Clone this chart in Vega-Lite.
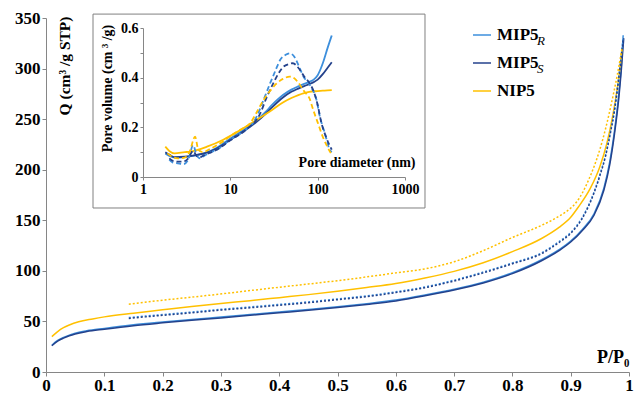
{
  "$schema": "https://vega.github.io/schema/vega-lite/v6.json",
  "width": 583,
  "height": 354,
  "autosize": {"type": "none"},
  "padding": {"left": 46, "top": 18, "right": 5, "bottom": 22},
  "background": "white",
  "config": {
    "view": {"stroke": null},
    "font": "Liberation Serif",
    "axis": {
      "labelFont": "Liberation Serif", "labelFontWeight": "bold", "labelColor": "black",
      "titleFont": "Liberation Serif", "titleFontWeight": "bold", "titleColor": "black",
      "domainColor": "#868686", "tickColor": "#868686", "grid": false,
      "labelFlush": false, "labelOverlap": false
    },
    "legend": {"labelFont": "Liberation Serif", "labelColor": "black"}
  },
  "datasets": {
    "main": [
      {"series":"MIP5R","branch":"ads","P":0.01,"Q":26.5},{"series":"MIP5R","branch":"ads","P":0.02,"Q":31.2},{"series":"MIP5R","branch":"ads","P":0.03,"Q":34.2},{"series":"MIP5R","branch":"ads","P":0.04,"Q":36.5},{"series":"MIP5R","branch":"ads","P":0.05,"Q":38.3},{"series":"MIP5R","branch":"ads","P":0.07,"Q":40.8},{"series":"MIP5R","branch":"ads","P":0.1,"Q":43.1},{"series":"MIP5R","branch":"ads","P":0.15,"Q":46.6},{"series":"MIP5R","branch":"ads","P":0.2,"Q":49.4},{"series":"MIP5R","branch":"ads","P":0.25,"Q":52},{"series":"MIP5R","branch":"ads","P":0.3,"Q":54.3},{"series":"MIP5R","branch":"ads","P":0.35,"Q":56.8},{"series":"MIP5R","branch":"ads","P":0.4,"Q":59.3},{"series":"MIP5R","branch":"ads","P":0.45,"Q":61.8},{"series":"MIP5R","branch":"ads","P":0.5,"Q":64.5},{"series":"MIP5R","branch":"ads","P":0.55,"Q":67.6},{"series":"MIP5R","branch":"ads","P":0.6,"Q":71.1},{"series":"MIP5R","branch":"ads","P":0.65,"Q":76.1},{"series":"MIP5R","branch":"ads","P":0.7,"Q":81.8},{"series":"MIP5R","branch":"ads","P":0.75,"Q":88.8},{"series":"MIP5R","branch":"ads","P":0.8,"Q":98.2},{"series":"MIP5R","branch":"ads","P":0.85,"Q":111},{"series":"MIP5R","branch":"ads","P":0.88,"Q":121},{"series":"MIP5R","branch":"ads","P":0.9,"Q":129.5},{"series":"MIP5R","branch":"ads","P":0.92,"Q":141},{"series":"MIP5R","branch":"ads","P":0.94,"Q":156.5},{"series":"MIP5R","branch":"ads","P":0.957,"Q":182},{"series":"MIP5R","branch":"ads","P":0.967,"Q":208},{"series":"MIP5R","branch":"ads","P":0.975,"Q":238},{"series":"MIP5R","branch":"ads","P":0.982,"Q":272},{"series":"MIP5R","branch":"ads","P":0.987,"Q":304},{"series":"MIP5R","branch":"ads","P":0.99,"Q":333},
      {"series":"MIP5S","branch":"ads","P":0.01,"Q":26},{"series":"MIP5S","branch":"ads","P":0.02,"Q":30.5},{"series":"MIP5S","branch":"ads","P":0.03,"Q":33.5},{"series":"MIP5S","branch":"ads","P":0.04,"Q":35.8},{"series":"MIP5S","branch":"ads","P":0.05,"Q":37.6},{"series":"MIP5S","branch":"ads","P":0.07,"Q":40},{"series":"MIP5S","branch":"ads","P":0.1,"Q":42.3},{"series":"MIP5S","branch":"ads","P":0.15,"Q":45.8},{"series":"MIP5S","branch":"ads","P":0.2,"Q":48.6},{"series":"MIP5S","branch":"ads","P":0.25,"Q":51.2},{"series":"MIP5S","branch":"ads","P":0.3,"Q":53.5},{"series":"MIP5S","branch":"ads","P":0.35,"Q":56},{"series":"MIP5S","branch":"ads","P":0.4,"Q":58.5},{"series":"MIP5S","branch":"ads","P":0.45,"Q":61},{"series":"MIP5S","branch":"ads","P":0.5,"Q":63.7},{"series":"MIP5S","branch":"ads","P":0.55,"Q":66.8},{"series":"MIP5S","branch":"ads","P":0.6,"Q":70.3},{"series":"MIP5S","branch":"ads","P":0.65,"Q":75.3},{"series":"MIP5S","branch":"ads","P":0.7,"Q":81},{"series":"MIP5S","branch":"ads","P":0.75,"Q":88},{"series":"MIP5S","branch":"ads","P":0.8,"Q":97.3},{"series":"MIP5S","branch":"ads","P":0.85,"Q":110},{"series":"MIP5S","branch":"ads","P":0.88,"Q":120},{"series":"MIP5S","branch":"ads","P":0.9,"Q":128.5},{"series":"MIP5S","branch":"ads","P":0.92,"Q":140},{"series":"MIP5S","branch":"ads","P":0.94,"Q":155},{"series":"MIP5S","branch":"ads","P":0.957,"Q":180},{"series":"MIP5S","branch":"ads","P":0.967,"Q":205},{"series":"MIP5S","branch":"ads","P":0.975,"Q":235},{"series":"MIP5S","branch":"ads","P":0.982,"Q":268},{"series":"MIP5S","branch":"ads","P":0.987,"Q":300},{"series":"MIP5S","branch":"ads","P":0.991,"Q":330},
      {"series":"NIP5","branch":"ads","P":0.01,"Q":35},{"series":"NIP5","branch":"ads","P":0.02,"Q":40},{"series":"NIP5","branch":"ads","P":0.03,"Q":43.8},{"series":"NIP5","branch":"ads","P":0.04,"Q":46.5},{"series":"NIP5","branch":"ads","P":0.056,"Q":49.7},{"series":"NIP5","branch":"ads","P":0.08,"Q":52.5},{"series":"NIP5","branch":"ads","P":0.1,"Q":54.5},{"series":"NIP5","branch":"ads","P":0.15,"Q":58.2},{"series":"NIP5","branch":"ads","P":0.2,"Q":61.5},{"series":"NIP5","branch":"ads","P":0.25,"Q":64.8},{"series":"NIP5","branch":"ads","P":0.3,"Q":67.8},{"series":"NIP5","branch":"ads","P":0.35,"Q":70.5},{"series":"NIP5","branch":"ads","P":0.4,"Q":73.5},{"series":"NIP5","branch":"ads","P":0.45,"Q":76.5},{"series":"NIP5","branch":"ads","P":0.5,"Q":79.8},{"series":"NIP5","branch":"ads","P":0.55,"Q":83.5},{"series":"NIP5","branch":"ads","P":0.6,"Q":87.5},{"series":"NIP5","branch":"ads","P":0.65,"Q":93},{"series":"NIP5","branch":"ads","P":0.7,"Q":99.5},{"series":"NIP5","branch":"ads","P":0.75,"Q":108},{"series":"NIP5","branch":"ads","P":0.8,"Q":119},{"series":"NIP5","branch":"ads","P":0.85,"Q":132},{"series":"NIP5","branch":"ads","P":0.88,"Q":143},{"series":"NIP5","branch":"ads","P":0.9,"Q":153},{"series":"NIP5","branch":"ads","P":0.913,"Q":163},{"series":"NIP5","branch":"ads","P":0.934,"Q":182},{"series":"NIP5","branch":"ads","P":0.95,"Q":203},{"series":"NIP5","branch":"ads","P":0.962,"Q":226},{"series":"NIP5","branch":"ads","P":0.972,"Q":253},{"series":"NIP5","branch":"ads","P":0.98,"Q":281},{"series":"NIP5","branch":"ads","P":0.985,"Q":303},{"series":"NIP5","branch":"ads","P":0.988,"Q":320},
      {"series":"MIP5R","branch":"des","P":0.142,"Q":53.8},{"series":"MIP5R","branch":"des","P":0.17,"Q":55.3},{"series":"MIP5R","branch":"des","P":0.2,"Q":56.8},{"series":"MIP5R","branch":"des","P":0.25,"Q":59.3},{"series":"MIP5R","branch":"des","P":0.3,"Q":62},{"series":"MIP5R","branch":"des","P":0.35,"Q":64.3},{"series":"MIP5R","branch":"des","P":0.4,"Q":66.8},{"series":"MIP5R","branch":"des","P":0.45,"Q":69.3},{"series":"MIP5R","branch":"des","P":0.5,"Q":72.3},{"series":"MIP5R","branch":"des","P":0.55,"Q":75.3},{"series":"MIP5R","branch":"des","P":0.6,"Q":79.3},{"series":"MIP5R","branch":"des","P":0.65,"Q":84.1},{"series":"MIP5R","branch":"des","P":0.7,"Q":90.8},{"series":"MIP5R","branch":"des","P":0.75,"Q":98.8},{"series":"MIP5R","branch":"des","P":0.8,"Q":107.8},{"series":"MIP5R","branch":"des","P":0.85,"Q":117.8},{"series":"MIP5R","branch":"des","P":0.88,"Q":129},{"series":"MIP5R","branch":"des","P":0.9,"Q":138},{"series":"MIP5R","branch":"des","P":0.92,"Q":153},{"series":"MIP5R","branch":"des","P":0.94,"Q":178},{"series":"MIP5R","branch":"des","P":0.95,"Q":195},{"series":"MIP5R","branch":"des","P":0.96,"Q":215},{"series":"MIP5R","branch":"des","P":0.968,"Q":237},{"series":"MIP5R","branch":"des","P":0.975,"Q":259},{"series":"MIP5R","branch":"des","P":0.98,"Q":280},{"series":"MIP5R","branch":"des","P":0.985,"Q":304},{"series":"MIP5R","branch":"des","P":0.99,"Q":330},
      {"series":"MIP5S","branch":"des","P":0.142,"Q":53},{"series":"MIP5S","branch":"des","P":0.17,"Q":54.5},{"series":"MIP5S","branch":"des","P":0.2,"Q":56},{"series":"MIP5S","branch":"des","P":0.25,"Q":58.5},{"series":"MIP5S","branch":"des","P":0.3,"Q":61.2},{"series":"MIP5S","branch":"des","P":0.35,"Q":63.5},{"series":"MIP5S","branch":"des","P":0.4,"Q":66},{"series":"MIP5S","branch":"des","P":0.45,"Q":68.5},{"series":"MIP5S","branch":"des","P":0.5,"Q":71.5},{"series":"MIP5S","branch":"des","P":0.55,"Q":74.5},{"series":"MIP5S","branch":"des","P":0.6,"Q":78.5},{"series":"MIP5S","branch":"des","P":0.65,"Q":83.3},{"series":"MIP5S","branch":"des","P":0.7,"Q":90},{"series":"MIP5S","branch":"des","P":0.75,"Q":98},{"series":"MIP5S","branch":"des","P":0.8,"Q":107},{"series":"MIP5S","branch":"des","P":0.85,"Q":117},{"series":"MIP5S","branch":"des","P":0.88,"Q":128},{"series":"MIP5S","branch":"des","P":0.9,"Q":137},{"series":"MIP5S","branch":"des","P":0.92,"Q":152},{"series":"MIP5S","branch":"des","P":0.94,"Q":177},{"series":"MIP5S","branch":"des","P":0.95,"Q":194},{"series":"MIP5S","branch":"des","P":0.96,"Q":214},{"series":"MIP5S","branch":"des","P":0.968,"Q":236},{"series":"MIP5S","branch":"des","P":0.975,"Q":258},{"series":"MIP5S","branch":"des","P":0.98,"Q":279},{"series":"MIP5S","branch":"des","P":0.985,"Q":302},{"series":"MIP5S","branch":"des","P":0.99,"Q":328},
      {"series":"NIP5","branch":"des","P":0.142,"Q":67},{"series":"NIP5","branch":"des","P":0.2,"Q":71},{"series":"NIP5","branch":"des","P":0.25,"Q":74},{"series":"NIP5","branch":"des","P":0.313,"Q":78},{"series":"NIP5","branch":"des","P":0.35,"Q":80.5},{"series":"NIP5","branch":"des","P":0.4,"Q":83.8},{"series":"NIP5","branch":"des","P":0.45,"Q":87},{"series":"NIP5","branch":"des","P":0.5,"Q":90.3},{"series":"NIP5","branch":"des","P":0.55,"Q":94},{"series":"NIP5","branch":"des","P":0.6,"Q":98},{"series":"NIP5","branch":"des","P":0.655,"Q":102.5},{"series":"NIP5","branch":"des","P":0.7,"Q":109},{"series":"NIP5","branch":"des","P":0.75,"Q":120},{"series":"NIP5","branch":"des","P":0.8,"Q":133},{"series":"NIP5","branch":"des","P":0.85,"Q":145},{"series":"NIP5","branch":"des","P":0.88,"Q":154},{"series":"NIP5","branch":"des","P":0.9,"Q":162},{"series":"NIP5","branch":"des","P":0.91,"Q":168},{"series":"NIP5","branch":"des","P":0.92,"Q":177},{"series":"NIP5","branch":"des","P":0.93,"Q":189},{"series":"NIP5","branch":"des","P":0.94,"Q":203},{"series":"NIP5","branch":"des","P":0.95,"Q":220},{"series":"NIP5","branch":"des","P":0.96,"Q":241},{"series":"NIP5","branch":"des","P":0.97,"Q":266},{"series":"NIP5","branch":"des","P":0.98,"Q":294},{"series":"NIP5","branch":"des","P":0.985,"Q":310},{"series":"NIP5","branch":"des","P":0.988,"Q":320}
    ],
    "inset": [
      {"series":"MIP5R","branch":"ads","d":1.8,"v":0.095},{"series":"MIP5R","branch":"ads","d":2,"v":0.085},{"series":"MIP5R","branch":"ads","d":2.3,"v":0.078},{"series":"MIP5R","branch":"ads","d":3,"v":0.08},{"series":"MIP5R","branch":"ads","d":4,"v":0.087},{"series":"MIP5R","branch":"ads","d":5,"v":0.095},{"series":"MIP5R","branch":"ads","d":7,"v":0.118},{"series":"MIP5R","branch":"ads","d":10,"v":0.155},{"series":"MIP5R","branch":"ads","d":15,"v":0.195},{"series":"MIP5R","branch":"ads","d":20,"v":0.228},{"series":"MIP5R","branch":"ads","d":25,"v":0.26},{"series":"MIP5R","branch":"ads","d":30,"v":0.29},{"series":"MIP5R","branch":"ads","d":40,"v":0.33},{"series":"MIP5R","branch":"ads","d":50,"v":0.352},{"series":"MIP5R","branch":"ads","d":60,"v":0.365},{"series":"MIP5R","branch":"ads","d":70,"v":0.375},{"series":"MIP5R","branch":"ads","d":80,"v":0.383},{"series":"MIP5R","branch":"ads","d":90,"v":0.392},{"series":"MIP5R","branch":"ads","d":100,"v":0.41},{"series":"MIP5R","branch":"ads","d":115,"v":0.46},{"series":"MIP5R","branch":"ads","d":130,"v":0.52},{"series":"MIP5R","branch":"ads","d":145,"v":0.57},
      {"series":"MIP5S","branch":"ads","d":1.8,"v":0.1},{"series":"MIP5S","branch":"ads","d":2,"v":0.09},{"series":"MIP5S","branch":"ads","d":2.3,"v":0.08},{"series":"MIP5S","branch":"ads","d":3,"v":0.082},{"series":"MIP5S","branch":"ads","d":4,"v":0.088},{"series":"MIP5S","branch":"ads","d":5,"v":0.095},{"series":"MIP5S","branch":"ads","d":7,"v":0.115},{"series":"MIP5S","branch":"ads","d":10,"v":0.15},{"series":"MIP5S","branch":"ads","d":15,"v":0.19},{"series":"MIP5S","branch":"ads","d":20,"v":0.222},{"series":"MIP5S","branch":"ads","d":25,"v":0.252},{"series":"MIP5S","branch":"ads","d":30,"v":0.28},{"series":"MIP5S","branch":"ads","d":40,"v":0.32},{"series":"MIP5S","branch":"ads","d":50,"v":0.343},{"series":"MIP5S","branch":"ads","d":60,"v":0.356},{"series":"MIP5S","branch":"ads","d":70,"v":0.366},{"series":"MIP5S","branch":"ads","d":80,"v":0.374},{"series":"MIP5S","branch":"ads","d":90,"v":0.382},{"series":"MIP5S","branch":"ads","d":100,"v":0.392},{"series":"MIP5S","branch":"ads","d":115,"v":0.415},{"series":"MIP5S","branch":"ads","d":130,"v":0.44},{"series":"MIP5S","branch":"ads","d":145,"v":0.462},
      {"series":"NIP5","branch":"ads","d":1.8,"v":0.122},{"series":"NIP5","branch":"ads","d":2,"v":0.105},{"series":"NIP5","branch":"ads","d":2.3,"v":0.095},{"series":"NIP5","branch":"ads","d":3,"v":0.1},{"series":"NIP5","branch":"ads","d":3.45,"v":0.102},{"series":"NIP5","branch":"ads","d":5.4,"v":0.122},{"series":"NIP5","branch":"ads","d":8.3,"v":0.15},{"series":"NIP5","branch":"ads","d":12.9,"v":0.188},{"series":"NIP5","branch":"ads","d":20,"v":0.23},{"series":"NIP5","branch":"ads","d":30,"v":0.27},{"series":"NIP5","branch":"ads","d":40,"v":0.3},{"series":"NIP5","branch":"ads","d":50,"v":0.318},{"series":"NIP5","branch":"ads","d":60,"v":0.33},{"series":"NIP5","branch":"ads","d":70,"v":0.338},{"series":"NIP5","branch":"ads","d":80,"v":0.343},{"series":"NIP5","branch":"ads","d":100,"v":0.346},{"series":"NIP5","branch":"ads","d":120,"v":0.348},{"series":"NIP5","branch":"ads","d":145,"v":0.35},
      {"series":"MIP5R","branch":"des","d":2,"v":0.07},{"series":"MIP5R","branch":"des","d":2.2,"v":0.058},{"series":"MIP5R","branch":"des","d":2.5,"v":0.055},{"series":"MIP5R","branch":"des","d":2.9,"v":0.052},{"series":"MIP5R","branch":"des","d":3.3,"v":0.07},{"series":"MIP5R","branch":"des","d":3.75,"v":0.128},{"series":"MIP5R","branch":"des","d":4.1,"v":0.09},{"series":"MIP5R","branch":"des","d":4.5,"v":0.075},{"series":"MIP5R","branch":"des","d":5,"v":0.085},{"series":"MIP5R","branch":"des","d":6,"v":0.1},{"series":"MIP5R","branch":"des","d":7,"v":0.11},{"series":"MIP5R","branch":"des","d":10,"v":0.15},{"series":"MIP5R","branch":"des","d":15,"v":0.19},{"series":"MIP5R","branch":"des","d":18,"v":0.215},{"series":"MIP5R","branch":"des","d":20,"v":0.243},{"series":"MIP5R","branch":"des","d":24,"v":0.31},{"series":"MIP5R","branch":"des","d":28.5,"v":0.377},{"series":"MIP5R","branch":"des","d":33,"v":0.43},{"series":"MIP5R","branch":"des","d":37,"v":0.47},{"series":"MIP5R","branch":"des","d":43,"v":0.492},{"series":"MIP5R","branch":"des","d":48,"v":0.498},{"series":"MIP5R","branch":"des","d":55,"v":0.48},{"series":"MIP5R","branch":"des","d":62,"v":0.44},{"series":"MIP5R","branch":"des","d":70,"v":0.4},{"series":"MIP5R","branch":"des","d":78,"v":0.38},{"series":"MIP5R","branch":"des","d":85,"v":0.36},{"series":"MIP5R","branch":"des","d":97,"v":0.31},{"series":"MIP5R","branch":"des","d":106,"v":0.243},{"series":"MIP5R","branch":"des","d":120,"v":0.18},{"series":"MIP5R","branch":"des","d":138,"v":0.109},{"series":"MIP5R","branch":"des","d":145,"v":0.1},
      {"series":"MIP5S","branch":"des","d":2,"v":0.075},{"series":"MIP5S","branch":"des","d":2.2,"v":0.065},{"series":"MIP5S","branch":"des","d":2.5,"v":0.062},{"series":"MIP5S","branch":"des","d":2.9,"v":0.062},{"series":"MIP5S","branch":"des","d":3.3,"v":0.075},{"series":"MIP5S","branch":"des","d":3.75,"v":0.105},{"series":"MIP5S","branch":"des","d":4.1,"v":0.085},{"series":"MIP5S","branch":"des","d":4.5,"v":0.08},{"series":"MIP5S","branch":"des","d":5,"v":0.088},{"series":"MIP5S","branch":"des","d":7,"v":0.11},{"series":"MIP5S","branch":"des","d":10,"v":0.148},{"series":"MIP5S","branch":"des","d":15,"v":0.19},{"series":"MIP5S","branch":"des","d":22,"v":0.256},{"series":"MIP5S","branch":"des","d":26,"v":0.32},{"series":"MIP5S","branch":"des","d":31,"v":0.377},{"series":"MIP5S","branch":"des","d":36,"v":0.42},{"series":"MIP5S","branch":"des","d":40.5,"v":0.444},{"series":"MIP5S","branch":"des","d":47,"v":0.455},{"series":"MIP5S","branch":"des","d":52,"v":0.458},{"series":"MIP5S","branch":"des","d":60,"v":0.44},{"series":"MIP5S","branch":"des","d":70,"v":0.405},{"series":"MIP5S","branch":"des","d":80,"v":0.38},{"series":"MIP5S","branch":"des","d":90,"v":0.345},{"series":"MIP5S","branch":"des","d":100,"v":0.29},{"series":"MIP5S","branch":"des","d":110,"v":0.22},{"series":"MIP5S","branch":"des","d":125,"v":0.16},{"series":"MIP5S","branch":"des","d":145,"v":0.11},
      {"series":"NIP5","branch":"des","d":1.9,"v":0.095},{"series":"NIP5","branch":"des","d":2.2,"v":0.08},{"series":"NIP5","branch":"des","d":2.5,"v":0.075},{"series":"NIP5","branch":"des","d":3,"v":0.078},{"series":"NIP5","branch":"des","d":3.4,"v":0.1},{"series":"NIP5","branch":"des","d":3.95,"v":0.162},{"series":"NIP5","branch":"des","d":4.3,"v":0.11},{"series":"NIP5","branch":"des","d":4.8,"v":0.1},{"series":"NIP5","branch":"des","d":6,"v":0.115},{"series":"NIP5","branch":"des","d":8,"v":0.14},{"series":"NIP5","branch":"des","d":10,"v":0.165},{"series":"NIP5","branch":"des","d":13,"v":0.19},{"series":"NIP5","branch":"des","d":16.8,"v":0.216},{"series":"NIP5","branch":"des","d":20,"v":0.26},{"series":"NIP5","branch":"des","d":24,"v":0.31},{"series":"NIP5","branch":"des","d":29,"v":0.35},{"series":"NIP5","branch":"des","d":34,"v":0.377},{"series":"NIP5","branch":"des","d":40,"v":0.395},{"series":"NIP5","branch":"des","d":48,"v":0.404},{"series":"NIP5","branch":"des","d":55,"v":0.395},{"series":"NIP5","branch":"des","d":60,"v":0.38},{"series":"NIP5","branch":"des","d":70,"v":0.345},{"series":"NIP5","branch":"des","d":81,"v":0.315},{"series":"NIP5","branch":"des","d":89,"v":0.27},{"series":"NIP5","branch":"des","d":100,"v":0.22},{"series":"NIP5","branch":"des","d":115,"v":0.16},{"series":"NIP5","branch":"des","d":130,"v":0.12},{"series":"NIP5","branch":"des","d":142,"v":0.095}
    ],
    "subs": [{"sub": "R"}, {"sub": "S"}]
  },
  "layer": [
    {
      "data": {"name": "main"},
      "encoding": {
        "x": {
          "field": "P", "type": "quantitative",
          "scale": {"domain": [0, 1], "nice": false, "zero": false},
          "axis": {
            "values": [0, 0.1, 0.2, 0.3, 0.4, 0.5, 0.6, 0.7, 0.8, 0.9, 1],
            "format": ".1~f", "labelFontSize": 17, "tickSize": 4, "labelPadding": 1,
            "title": "P/P₀", "titleFontSize": 18, "titleX": 583, "titleY": -10,
            "titleAlign": "right", "titleBaseline": "alphabetic"
          }
        },
        "y": {
          "field": "Q", "type": "quantitative",
          "scale": {"domain": [0, 350], "nice": false},
          "axis": {
            "values": [0, 50, 100, 150, 200, 250, 300, 350],
            "labelFontSize": 17, "tickSize": 4, "labelPadding": 2,
            "title": "Q (cm³ /g STP)", "titleFontSize": 15.5, "titleAngle": 270,
            "titleX": 11, "titleY": -2, "titleAlign": "right", "titleBaseline": "top"
          }
        },
        "color": {
          "field": "series", "type": "nominal",
          "scale": {"domain": ["MIP5R", "MIP5S", "NIP5"], "range": ["#3d8fdc", "#24428c", "#ffc000"]},
          "legend": {
            "orient": "none", "legendX": 426, "legendY": 7, "title": null, "padding": 0,
            "symbolType": "stroke", "symbolSize": 324, "symbolStrokeWidth": 1.5,
            "labelFontWeight": "bold", "labelFontSize": 17, "rowPadding": 10, "labelOffset": 5,
            "labelExpr": "datum.label == 'NIP5' ? 'NIP5' : 'MIP5'"
          }
        }
      },
      "layer": [
        {"transform": [{"filter": "datum.branch == 'ads'"}], "mark": {"type": "line", "strokeWidth": 1.5, "interpolate": "monotone"}},
        {"transform": [{"filter": "datum.branch == 'des'"}], "mark": {"type": "line", "strokeWidth": 1.5, "strokeDash": [2, 2], "interpolate": "monotone"}}
      ]
    },
    {
      "layer": [
        {
          "data": {"values": [{}]},
          "mark": {"type": "rect", "fill": "white", "stroke": "#808080", "strokeWidth": 1},
          "encoding": {
            "x": {
              "datum": 0.2677, "type": "quantitative",
              "scale": {"type": "log", "domain": [1, 1000], "range": [97, 359]},
              "axis": {
                "orient": "bottom", "offset": -195, "zindex": 1,
                "values": [1, 10, 100, 1000], "format": "d", "labelFontSize": 14, "tickSize": 3, "labelPadding": 2,
                "title": "Pore diameter (nm)", "titleFontSize": 14, "titleX": 369, "titleY": -11,
                "titleAlign": "right", "titleBaseline": "alphabetic"
              }
            },
            "x2": {"datum": 1694},
            "y": {
              "datum": -0.1248, "type": "quantitative",
              "scale": {"domain": [0, 0.6], "range": [159, 10], "nice": false, "zero": false},
              "axis": {
                "orient": "left", "offset": -97, "zindex": 1,
                "values": [0, 0.1, 0.2, 0.3, 0.4, 0.5, 0.6],
                "labelExpr": "round(datum.value*10) % 2 == 0 ? format(datum.value, '.1~f') : ''",
                "labelFontSize": 14, "tickSize": 3, "labelPadding": 2,
                "title": "Pore volume (cm ³ /g)", "titleFontSize": 14, "titleAngle": 270,
                "titleX": -36, "titleY": 70, "titleAlign": "center", "titleBaseline": "middle"
              }
            },
            "y2": {"datum": 0.656}
          }
        },
        {
          "data": {"name": "inset"},
          "encoding": {
            "x": {
              "field": "d", "type": "quantitative",
              "scale": {"type": "log", "domain": [1, 1000], "range": [97, 359]},
              "axis": {
                "orient": "bottom", "offset": -195, "zindex": 1,
                "values": [1, 10, 100, 1000], "format": "d", "labelFontSize": 14, "tickSize": 3, "labelPadding": 2,
                "title": "Pore diameter (nm)", "titleFontSize": 14, "titleX": 369, "titleY": -11,
                "titleAlign": "right", "titleBaseline": "alphabetic"
              }
            },
            "y": {
              "field": "v", "type": "quantitative",
              "scale": {"domain": [0, 0.6], "range": [159, 10], "nice": false, "zero": false},
              "axis": {
                "orient": "left", "offset": -97, "zindex": 1,
                "values": [0, 0.1, 0.2, 0.3, 0.4, 0.5, 0.6],
                "labelExpr": "round(datum.value*10) % 2 == 0 ? format(datum.value, '.1~f') : ''",
                "labelFontSize": 14, "tickSize": 3, "labelPadding": 2,
                "title": "Pore volume (cm ³ /g)", "titleFontSize": 14, "titleAngle": 270,
                "titleX": -36, "titleY": 70, "titleAlign": "center", "titleBaseline": "middle"
              }
            },
            "color": {"field": "series", "type": "nominal"}
          },
          "layer": [
            {"transform": [{"filter": "datum.branch == 'ads'"}], "mark": {"type": "line", "strokeWidth": 1.8, "interpolate": "monotone"}},
            {"transform": [{"filter": "datum.branch == 'des'"}], "mark": {"type": "line", "strokeWidth": 1.8, "strokeDash": [5, 3], "interpolate": "monotone"}}
          ]
        }
      ]
    },
    {
      "data": {"name": "subs"},
      "mark": {"type": "point", "opacity": 0},
      "encoding": {
        "shape": {
          "field": "sub", "type": "nominal",
          "scale": {"domain": ["R", "S"]},
          "legend": {
            "orient": "none", "legendX": 478, "legendY": 16, "title": null, "padding": 0,
            "symbolOpacity": 0, "symbolSize": 1, "labelFontStyle": "italic",
            "labelFontSize": 13, "rowPadding": 14, "labelOffset": 0
          }
        }
      }
    }
  ],
  "resolve": {"scale": {"x": "independent", "y": "independent"}}
}
